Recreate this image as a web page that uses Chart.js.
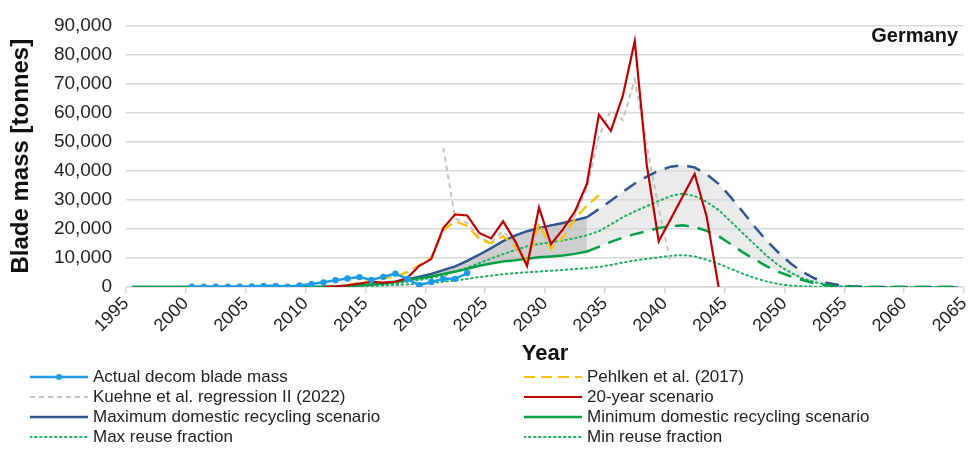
<!DOCTYPE html>
<html>
<head>
<meta charset="utf-8">
<script src="https://cdn.jsdelivr.net/npm/chart.js@4.4.1/dist/chart.umd.min.js"></script>
<style>
  html, body { margin: 0; padding: 0; background: #fff; }
  #wrap { position: relative; width: 968px; height: 449px; }
  #legend { position: absolute; left: 0; top: 367px; width: 968px; font-family: "Liberation Sans", Arial, sans-serif; font-size: 17px; color: #222; }
  .item { position: absolute; height: 20px; display: flex; align-items: center; white-space: nowrap; }
  .item svg { margin-right: 5px; }
</style>
</head>
<body>
<div id="wrap">
  <canvas id="bladeChart" width="968" height="449"></canvas>
  <div id="legend"></div>
</div>
<script>
// Annees (une valeur par annee, 1995 -> 2064)
const years = [
  1995, 1996, 1997, 1998, 1999, 2000, 2001, 2002, 2003, 2004,
  2005, 2006, 2007, 2008, 2009, 2010, 2011, 2012, 2013, 2014,
  2015, 2016, 2017, 2018, 2019, 2020, 2021, 2022, 2023, 2024,
  2025, 2026, 2027, 2028, 2029, 2030, 2031, 2032, 2033, 2034,
  2035, 2036, 2037, 2038, 2039, 2040, 2041, 2042, 2043, 2044,
  2045, 2046, 2047, 2048, 2049, 2050, 2051, 2052, 2053, 2054,
  2055, 2056, 2057, 2058, 2059, 2060, 2061, 2062, 2063, 2064
];

const xTickValues = [1994.5, 1999.5, 2004.5, 2009.5, 2014.5, 2019.5, 2024.5, 2029.5, 2034.5, 2039.5, 2044.5, 2049.5, 2054.5, 2059.5, 2064.5];
const xTickLabels = ['1995', '2000', '2005', '2010', '2015', '2020', '2025', '2030', '2035', '2040', '2045', '2050', '2055', '2060', '2065'];
const yTickValues = [0, 10000, 20000, 30000, 40000, 50000, 60000, 70000, 80000, 90000];

const actualDecom = [
  null, null, null, null, null, 100, 100, 100, 100, 100,
  200, 400, 400, 100, 500, 1000, 1600, 2300, 2900, 3400,
  2400, 3500, 4600, 2800, 600, 1700, 2800, 2800, 4800, null,
  null, null, null, null, null, null, null, null, null, null,
  null, null, null, null, null, null, null, null, null, null,
  null, null, null, null, null, null, null, null, null, null,
  null, null, null, null, null, null, null, null, null, null
];

const pehlken = [
  null, null, null, null, null, null, null, null, null, null,
  null, null, null, null, null, null, null, null, 800, 1400,
  2200, 3000, 3500, 5200, 7500, 10200, 19500, 22600, 21000, 16500,
  15000, 17500, 14000, 8800, 22000, 13100, 17000, 23500, 28000, 31500,
  null, null, null, null, null, null, null, null, null, null,
  null, null, null, null, null, null, null, null, null, null,
  null, null, null, null, null, null, null, null, null, null
];

const kuehne = [
  null, null, null, null, null, null, null, null, null, null,
  null, null, null, null, null, null, null, null, null, null,
  null, null, null, null, null, null, 47900, 23500, 22000, 17000,
  15300, 19200, 14800, 8500, 21600, 13000, 17000, 24600, 33800, 51900,
  60800, 57400, 71400, 48800, 27000, 8400, null, null, null, null,
  null, null, null, null, null, null, null, null, null, null,
  null, null, null, null, null, null, null, null, null, null
];

const twentyYear = [
  null, null, null, null, null, null, null, null, null, null,
  null, null, null, null, null, null, 0, 200, 600, 1200,
  1800, 1500, 1800, 3100, 7300, 9600, 20300, 25000, 24600, 18600,
  16700, 22600, 15800, 7200, 27300, 14700, 19800, 26000, 35500, 59300,
  53700, 65800, 84600, 42000, 15700, 23400, 31100, 38900, 24300, 0,
  null, null, null, null, null, null, null, null, null, null,
  null, null, null, null, null, null, null, null, null, null
];

const maxDomestic = [
  0, 0, 0, 0, 0, 0, 0, 0, 0, 0,
  0, 0, 0, 0, 0, 0, 0, 0, 300, 600,
  900, 1300, 1800, 2600, 3500, 4500, 5800, 7100, 9000, 11100,
  13400, 15800, 17700, 19200, 20300, 21200, 22000, 23000, 24000, null,
  null, null, null, null, null, null, null, null, null, null,
  null, null, null, null, null, null, null, null, null, null,
  null, null, null, null, null, null, null, null, null, null
];

const maxDomesticProj = [
  null, null, null, null, null, null, null, null, null, null,
  null, null, null, null, null, null, null, null, null, null,
  null, null, null, null, null, null, null, null, null, null,
  null, null, null, null, null, null, null, null, 24000, 26800,
  29700, 32700, 35600, 38000, 40000, 41400, 41900, 41100, 38800, 35500,
  31000, 26000, 20800, 16000, 11800, 8200, 5200, 3000, 1500, 700,
  300, 100, 0, 0, 0, 0, 0, 0, 0, 0
];

const minDomestic = [
  0, 0, 0, 0, 0, 0, 0, 0, 0, 0,
  0, 0, 0, 0, 0, 0, 100, 200, 400, 600,
  900, 1300, 1800, 2400, 3000, 3600, 4500, 5300, 6300, 7300,
  8100, 8800, 9200, 9700, 10200, 10500, 10800, 11400, 12200, null,
  null, null, null, null, null, null, null, null, null, null,
  null, null, null, null, null, null, null, null, null, null,
  null, null, null, null, null, null, null, null, null, null
];

const minDomesticProj = [
  null, null, null, null, null, null, null, null, null, null,
  null, null, null, null, null, null, null, null, null, null,
  null, null, null, null, null, null, null, null, null, null,
  null, null, null, null, null, null, null, null, 12200, 13800,
  15500, 17000, 18200, 19200, 20300, 20900, 21200, 20600, 19300, 17500,
  14800, 12000, 9500, 7200, 5200, 3700, 2400, 1300, 600, 250,
  100, 0, 0, 0, 0, 0, 0, 0, 0, 0
];

const maxReuse = [
  null, null, null, null, null, null, null, null, null, null,
  null, null, null, null, null, 0, 100, 200, 300, 400,
  600, 900, 1300, 1800, 2400, 3100, 4000, 5200, 6600, 8200,
  9800, 11300, 12700, 14000, 14800, 15400, 16000, 16800, 17800, 19200,
  21500, 24000, 26000, 27800, 29600, 31300, 32100, 31300, 29300, 26500,
  22600, 18600, 14700, 10800, 7500, 5000, 3000, 1700, 800, 300,
  100, 0, 0, 0, 0, 0, 0, 0, 0, 0
];

const minReuse = [
  null, null, null, null, null, null, null, null, null, null,
  null, null, null, null, null, 0, 100, 100, 200, 300,
  400, 500, 700, 900, 1100, 1400, 1800, 2200, 2800, 3400,
  3900, 4400, 4800, 5100, 5300, 5600, 5900, 6200, 6500, 6900,
  7600, 8400, 9100, 9700, 10200, 10700, 11000, 10500, 9400, 8000,
  6300, 4600, 3100, 1900, 1000, 500, 200, 100, 0, 0,
  0, 0, 0, 0, 0, 0, 0, 0, 0, 0
];

const FONT = '"Liberation Sans", Arial, sans-serif';
const BLUE_LIGHT = '#1e9be6';
const NAVY = '#2f5690';
const GREEN = '#00a046';
const GREEN_DOT = '#1fb060';

function pts(values) {
  return years.map((yr, i) => ({ x: yr, y: values[i] }));
}

function lineDs(label, values, color, width, dash, extra) {
  return Object.assign({
    label: label,
    data: pts(values),
    borderColor: color,
    backgroundColor: color,
    borderWidth: width,
    borderDash: dash,
    pointRadius: 0,
    tension: 0,
    fill: false,
    showInLegend: true
  }, extra || {});
}

// ordre du tableau = ordre d'affichage (le premier est dessine au-dessus)
const datasets = [
  lineDs('Actual decom blade mass', actualDecom, BLUE_LIGHT, 2.5, [], { pointRadius: 3.2, pointBackgroundColor: BLUE_LIGHT, pointBorderWidth: 0 }),
  lineDs('20-year scenario', twentyYear, '#c00000', 2.2, []),
  lineDs('Pehlken et al. (2017)', pehlken, '#ffc000', 2.2, [11, 6]),
  lineDs('Kuehne et al. regression II (2022)', kuehne, '#c4c4c4', 2, [5, 4]),
  lineDs('Minimum domestic recycling scenario', minDomestic, GREEN, 2.5, []),
  lineDs('min proj', minDomesticProj, GREEN, 2.5, [14, 9], { showInLegend: false }),
  lineDs('Maximum domestic recycling scenario', maxDomestic, NAVY, 2.5, [], { fill: { target: 4 }, backgroundColor: 'rgba(185,185,185,0.7)' }),
  lineDs('max proj', maxDomesticProj, NAVY, 2.5, [14, 9], { fill: { target: 5 }, backgroundColor: 'rgba(215,215,215,0.5)', showInLegend: false }),
  lineDs('Max reuse fraction', maxReuse, GREEN_DOT, 2, [1.5, 3.5], { borderCapStyle: 'round' }),
  lineDs('Min reuse fraction', minReuse, GREEN_DOT, 2, [1.5, 3.5], { borderCapStyle: 'round' })
];

// Texte "Germany" dans la zone du graphique
const countryLabel = {
  id: 'countryLabel',
  afterDraw(chart) {
    const ctx = chart.ctx;
    ctx.save();
    ctx.font = 'bold 20px ' + FONT;
    ctx.fillStyle = '#111';
    ctx.textAlign = 'right';
    ctx.textBaseline = 'middle';
    ctx.fillText('Germany', chart.chartArea.right - 6, 36);
    ctx.restore();
  }
};

const ctx = document.getElementById('bladeChart').getContext('2d');
const chart = new Chart(ctx, {
  type: 'line',
  data: { datasets: datasets },
  plugins: [countryLabel],
  options: {
    responsive: false,
    animation: false,
    layout: { padding: { top: 20, right: 2, bottom: 84, left: 0 } },
    plugins: {
      legend: { display: false },
      tooltip: { enabled: false },
      filler: { drawTime: 'beforeDatasetsDraw' }
    },
    scales: {
      x: {
        type: 'linear',
        min: 1994.5,
        max: 2064.5,
        afterBuildTicks: (scale) => {
          scale.ticks = xTickValues.map(v => ({ value: v }));
        },
        afterFit: (scale) => {
          scale.height = 78;
          scale.paddingLeft = 0;
          scale.paddingRight = 0;
        },
        grid: { drawOnChartArea: false, drawTicks: true, tickLength: 6, color: '#d9d9d9', lineWidth: 1.5 },
        border: { color: '#d9d9d9', width: 1.5 },
        ticks: {
          autoSkip: false,
          minRotation: 45,
          maxRotation: 45,
          padding: 0,
          color: '#222',
          font: { family: FONT, size: 18 },
          callback: (v, i) => xTickLabels[i]
        },
        title: {
          display: true,
          text: 'Year',
          color: '#111',
          padding: { top: 0, bottom: 0 },
          font: { family: FONT, size: 22, weight: 'bold', lineHeight: 1 }
        }
      },
      y: {
        min: 0,
        max: 90000,
        afterBuildTicks: (scale) => {
          scale.ticks = yTickValues.map(v => ({ value: v }));
        },
        afterFit: (scale) => {
          scale.width = 126;
        },
        grid: { color: '#d9d9d9', lineWidth: 1.5, drawTicks: false },
        border: { display: false },
        ticks: {
          padding: 14,
          color: '#222',
          font: { family: FONT, size: 19 },
          callback: (v) => v.toLocaleString('en-US')
        },
        title: {
          display: true,
          text: 'Blade mass [tonnes]',
          color: '#111',
          padding: { top: 8, bottom: 0 },
          font: { family: FONT, size: 24, weight: 'bold', lineHeight: 1.1 }
        }
      }
    }
  }
});

// Legende HTML sur deux colonnes
const legendOrder = [
  ['Actual decom blade mass', 0, 0], ['Kuehne et al. regression II (2022)', 0, 1],
  ['Maximum domestic recycling scenario', 0, 2], ['Max reuse fraction', 0, 3],
  ['Pehlken et al. (2017)', 1, 0], ['20-year scenario', 1, 1],
  ['Minimum domestic recycling scenario', 1, 2], ['Min reuse fraction', 1, 3]
];
const colLeft = [30, 524];
const legendEl = document.getElementById('legend');
legendOrder.forEach(([label, col, row]) => {
  const ds = datasets.find(d => d.label === label);
  const item = document.createElement('div');
  item.className = 'item';
  item.style.left = colLeft[col] + 'px';
  item.style.top = (row * 20) + 'px';
  const dash = ds.borderDash.length ? ds.borderDash.join(' ') : 'none';
  const cap = ds.borderCapStyle === 'round' ? 'round' : 'butt';
  let svg = '<svg width="58" height="10"><line x1="0" y1="5" x2="58" y2="5" stroke="' + ds.borderColor +
    '" stroke-width="' + ds.borderWidth + '" stroke-dasharray="' + dash + '" stroke-linecap="' + cap + '"/>';
  if (ds.pointRadius > 0) {
    svg += '<circle cx="29" cy="5" r="3" fill="' + ds.borderColor + '"/>';
  }
  svg += '</svg>';
  item.innerHTML = svg + '<span>' + label + '</span>';
  legendEl.appendChild(item);
});
</script>
</body>
</html>
